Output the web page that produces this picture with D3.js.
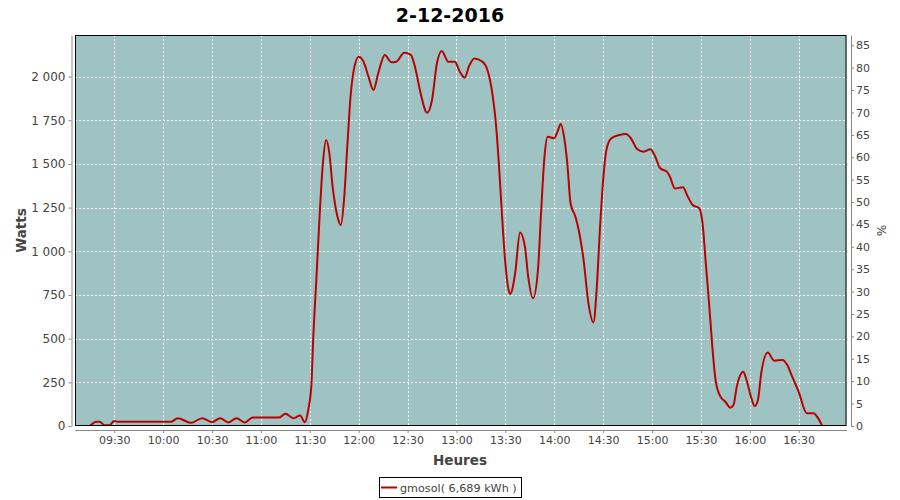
<!DOCTYPE html>
<html>
<head>
<meta charset="utf-8">
<script src="https://cdn.jsdelivr.net/npm/d3@7"></script>
<style>
  html, body { margin: 0; padding: 0; background: #ffffff; }
  svg { display: block; }
</style>
</head>
<body>
<svg id="chart" width="900" height="500"></svg>
<script>
const chartTitle = "2-12-2016";
const seriesName = "gmosol( 6,689 kWh )";
const xTitle = "Heures";
const yTitle = "Watts";
const y2Title = "%";
const xDomainLabels = ["09:05:55", "16:59:20"];
const xTickLabels = ["09:30","10:00","10:30","11:00","11:30","12:00","12:30","13:00","13:30","14:00","14:30","15:00","15:30","16:00","16:30"];
const yTicks = [0, 250, 500, 750, 1000, 1250, 1500, 1750, 2000];
const y2Ticks = [0,5,10,15,20,25,30,35,40,45,50,55,60,65,70,75,80,85];
const yMax = 2238;
const y2Max = 87.3;

const times = ["09:15","09:19","09:21","09:24","09:27","09:30","09:32","10:05","10:09","10:17","10:24","10:30","10:35","10:40","10:45","10:50","10:55","11:11","11:15","11:20","11:24","11:27","11:29","11:31","11:32","11:34","11:36","11:38","11:40","11:42","11:44","11:47","11:49","11:51","11:53","11:55","11:57","12:00","12:03","12:06","12:09","12:12","12:16","12:20","12:23","12:28","12:32","12:35","12:38","12:42","12:45","12:48","12:51","12:55","12:59","13:02","13:05","13:08","13:11","13:16","13:19","13:22","13:24","13:26","13:28","13:30","13:32","13:33","13:36","13:39","13:42","13:44","13:47","13:50","13:52","13:54","13:56","14:00","14:02","14:04","14:06","14:08","14:10","14:13","14:15","14:18","14:21","14:24","14:26","14:28","14:30","14:32","14:35","14:40","14:44","14:47","14:51","14:55","14:59","15:02","15:05","15:09","15:11","15:14","15:19","15:22","15:25","15:29","15:31","15:33","15:35","15:37","15:39","15:42","15:45","15:48","15:50","15:52","15:56","15:58","16:01","16:03","16:05","16:07","16:11","16:15","16:20","16:23","16:26","16:30","16:35","16:39","16:42","16:45","16:50"];
const watts = [0,25,25,5,5,28,25,25,45,18,45,22,45,20,45,20,48,48,70,45,60,22,90,240,480,836,1200,1500,1637,1561,1370,1198,1150,1294,1599,1885,2038,2114,2085,2000,1923,2019,2124,2082,2085,2137,2124,2038,1904,1793,1866,2076,2147,2085,2085,2028,1994,2066,2104,2085,2038,1904,1751,1504,1198,931,778,756,874,1107,1027,855,731,893,1236,1541,1656,1647,1685,1729,1656,1504,1275,1198,1122,950,702,593,778,1122,1408,1580,1647,1666,1671,1647,1584,1570,1584,1541,1475,1456,1427,1360,1366,1312,1265,1246,1160,931,702,454,263,168,139,105,120,225,311,263,159,114,149,302,420,374,378,349,282,196,73,73,44,0,0];

const W = 900, H = 500;
const plot = { left: 75, right: 846.5, top: 35, bottom: 426 };
const parseHM = d3.timeParse("%H:%M");
const parseHMS = d3.timeParse("%H:%M:%S");
const data = times.map((t, i) => ({ t: parseHM(t), v: watts[i] }));

const svg = d3.select("#chart");
const font = "'DejaVu Sans', sans-serif";
const textColor = "#444444";
const axisColor = "#888888";

const x = d3.scaleTime()
  .domain(xDomainLabels.map(parseHMS))
  .range([plot.left, plot.right]);
const y = d3.scaleLinear().domain([0, yMax]).range([plot.bottom, plot.top]);
const y2 = d3.scaleLinear().domain([0, y2Max]).range([plot.bottom, plot.top]);

// Title
svg.append("text")
  .attr("x", 450).attr("y", 22)
  .attr("text-anchor", "middle")
  .attr("font-family", font).attr("font-weight", "bold").attr("font-size", 19)
  .attr("fill", "#000").text(chartTitle);

// Plot background
svg.append("rect")
  .attr("x", plot.left).attr("y", plot.top)
  .attr("width", plot.right - plot.left).attr("height", plot.bottom - plot.top)
  .attr("fill", "#9fc3c2");

const xTickDates = xTickLabels.map(parseHM);

// Gridlines
const grid = svg.append("g").attr("stroke", "#ffffff").attr("stroke-width", 1).attr("stroke-dasharray", "2,2");
grid.selectAll("line.v").data(xTickDates).join("line")
  .attr("x1", d => Math.round(x(d)) + 0.5).attr("x2", d => Math.round(x(d)) + 0.5)
  .attr("y1", plot.top).attr("y2", plot.bottom);
grid.selectAll("line.h").data(yTicks.filter(d => d > 0)).join("line")
  .attr("x1", plot.left).attr("x2", plot.right)
  .attr("y1", d => Math.round(y(d)) + 0.5).attr("y2", d => Math.round(y(d)) + 0.5);

// Line
svg.append("defs").append("clipPath").attr("id", "clip")
  .append("rect").attr("x", plot.left).attr("y", plot.top)
  .attr("width", plot.right - plot.left).attr("height", plot.bottom - plot.top);

const line = d3.line().x(d => x(d.t)).y(d => y(d.v)).curve(d3.curveMonotoneX);
svg.append("path").datum(data)
  .attr("clip-path", "url(#clip)")
  .attr("fill", "none").attr("stroke", "#bb0000").attr("stroke-width", 2)
  .attr("stroke-linejoin", "round")
  .attr("d", line);

// Plot border
svg.append("rect")
  .attr("x", plot.left + 0.5).attr("y", plot.top + 0.5)
  .attr("width", plot.right - plot.left - 1).attr("height", plot.bottom - plot.top - 1)
  .attr("fill", "none").attr("stroke", "#000").attr("stroke-width", 1);

// Axes
const thFmt = d3.formatLocale({ decimal: ",", thousands: " ", grouping: [3], currency: ["", ""] }).format(",d");

function styleAxis(g) {
  g.select(".domain").attr("stroke", axisColor);
  g.selectAll(".tick line").attr("stroke", axisColor);
  g.selectAll(".tick text").attr("fill", textColor).attr("font-family", font).attr("font-size", 11);
}

const xAxis = svg.append("g").attr("transform", `translate(0,${plot.bottom + 4})`)
  .call(d3.axisBottom(x).tickValues(xTickDates).tickFormat(d3.timeFormat("%H:%M")).tickSizeInner(3).tickSizeOuter(0).tickPadding(3));
styleAxis(xAxis);

const yAxis = svg.append("g").attr("transform", `translate(${plot.left - 3.5},0)`)
  .call(d3.axisLeft(y).tickValues(yTicks).tickFormat(thFmt).tickSizeInner(3).tickSizeOuter(0).tickPadding(3));
styleAxis(yAxis);
yAxis.selectAll(".tick text").attr("font-size", 12);

const y2Axis = svg.append("g").attr("transform", `translate(${plot.right + 4.5},0)`)
  .call(d3.axisRight(y2).tickValues(y2Ticks).tickSizeInner(3).tickSizeOuter(0).tickPadding(2));
styleAxis(y2Axis);

// Axis titles
svg.append("text")
  .attr("x", 460).attr("y", 465)
  .attr("text-anchor", "middle")
  .attr("font-family", font).attr("font-size", 13.5).attr("font-weight", "bold")
  .attr("fill", textColor).text(xTitle);

svg.append("text")
  .attr("transform", `translate(26,${(plot.top + plot.bottom) / 2}) rotate(-90)`)
  .attr("text-anchor", "middle")
  .attr("font-family", font).attr("font-size", 13.5).attr("font-weight", "bold")
  .attr("fill", textColor).text(yTitle);

svg.append("text")
  .attr("transform", `translate(877,${(plot.top + plot.bottom) / 2}) rotate(90)`)
  .attr("text-anchor", "middle")
  .attr("font-family", font).attr("font-size", 12)
  .attr("fill", textColor).text(y2Title);

// Legend
const lg = svg.append("g");
lg.append("rect").attr("x", 379.5).attr("y", 477.5).attr("width", 142).attr("height", 20)
  .attr("fill", "#fff").attr("stroke", "#000").attr("stroke-width", 1);
lg.append("line").attr("x1", 381).attr("x2", 397).attr("y1", 487.5).attr("y2", 487.5)
  .attr("stroke", "#bb0000").attr("stroke-width", 2);
lg.append("text").attr("x", 400).attr("y", 492)
  .attr("font-family", font).attr("font-size", 11.2)
  .attr("fill", textColor).text(seriesName);
</script>
</body>
</html>
